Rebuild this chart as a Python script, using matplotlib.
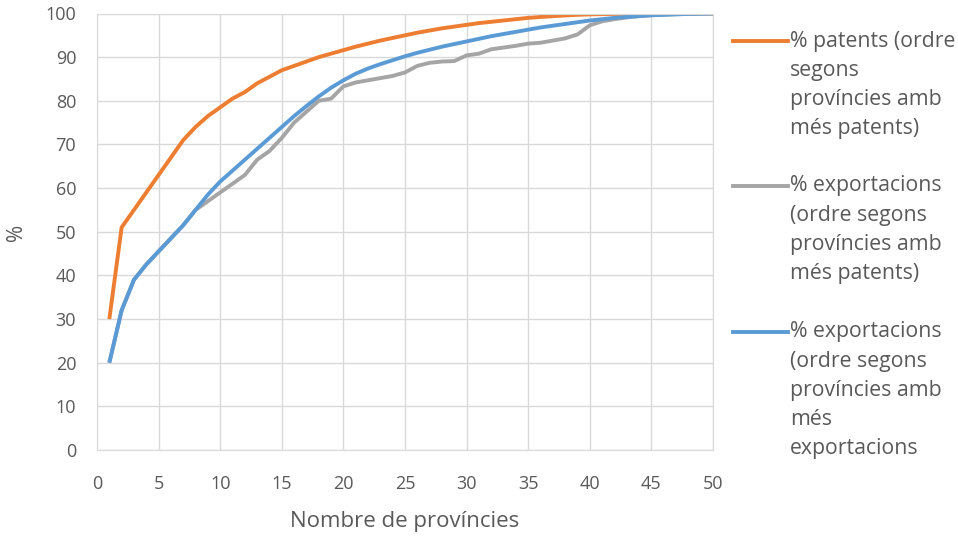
import numpy as np
import matplotlib
matplotlib.use("Agg")
import matplotlib.pyplot as plt
from matplotlib.lines import Line2D

plt.rcParams['font.family'] = ['Open Sans', 'DejaVu Sans']

provincies = np.arange(1, 51)

# % patents (ordre segons províncies amb més patents)
patents = [30, 51, 55, 59, 63, 67, 71, 74, 76.5, 78.5,
           80.5, 82, 84, 85.5, 87, 88, 89, 90, 90.8, 91.6,
           92.4, 93.1, 93.8, 94.4, 95, 95.6, 96.1, 96.6, 97.0, 97.4,
           97.8, 98.1, 98.4, 98.7, 99.0, 99.2, 99.4, 99.55, 99.7, 99.8,
           99.85, 99.9, 99.92, 99.94, 99.96, 99.97, 99.98, 99.99, 99.995, 100]

# % exportacions (ordre segons províncies amb més patents)
exp_pat = [20, 32, 39, 42.5, 45.5, 48.5, 51.5, 55, 57, 59,
           61, 63, 66.5, 68.5, 71.5, 75, 77.5, 80, 80.5, 83.3,
           84.2, 84.7, 85.2, 85.7, 86.5, 88, 88.7, 89, 89.1, 90.4,
           90.8, 91.8, 92.2, 92.6, 93.1, 93.3, 93.8, 94.3, 95.2, 97.3,
           98.2, 98.7, 99.1, 99.4, 99.6, 99.75, 99.85, 99.93, 99.97, 100]

# % exportacions (ordre segons províncies amb més exportacions)
exp_exp = [20, 32, 39, 42.5, 45.5, 48.5, 51.5, 55, 58.5, 61.5,
           64, 66.5, 69, 71.5, 74, 76.5, 78.8, 81, 83, 84.7,
           86.2, 87.4, 88.4, 89.3, 90.2, 91, 91.7, 92.4, 93.0, 93.6,
           94.2, 94.8, 95.3, 95.8, 96.3, 96.8, 97.2, 97.6, 98.0, 98.4,
           98.7, 99.0, 99.2, 99.4, 99.6, 99.7, 99.8, 99.9, 99.95, 100]

labels = [["% patents (ordre", "segons", "províncies amb", "més patents)"],
          ["% exportacions", "(ordre segons", "províncies amb", "més patents)"],
          ["% exportacions", "(ordre segons", "províncies amb", "més", "exportacions"]]
colors = ["#ED7D31", "#A5A5A5", "#5B9BD5"]

W, H = 958, 536
fig = plt.figure(figsize=(W / 100, H / 100), dpi=100)
ax = fig.add_axes([97 / W, 1 - 450 / H, 616 / W, 436.5 / H])

for y, c in zip([patents, exp_pat, exp_exp], colors):
    ax.plot(provincies, y, color=c, lw=2.8, solid_capstyle='butt')

ax.set_xlim(0, 50)
ax.set_ylim(0, 100)
ax.set_xticks(np.arange(0, 51, 5))
ax.set_yticks(np.arange(0, 101, 10))
ax.grid(True, color="#D9D9D9", lw=1)
ax.set_axisbelow(True)
for s in ax.spines.values():
    s.set_color("#D9D9D9")
ax.tick_params(length=0, labelsize=13, colors="#595959")
ax.tick_params(axis='y', pad=15)
ax.tick_params(axis='x', pad=18)
ax.set_xlabel("Nombre de províncies", fontsize=16, color="#595959")
ax.set_ylabel("%", fontsize=15, color="#595959")
ax.xaxis.label.set_va('center')
ax.yaxis.label.set_va('center')
ax.xaxis.set_label_coords(0.5, (450 - 522) / 436.5)
ax.yaxis.set_label_coords((16 - 97) / 616, (450 - 232) / 436.5)

# legend at the right
tops = [41, 186, 332]
step = 29.2
for lines, c, t in zip(labels, colors, tops):
    yf = 1 - t / H
    fig.add_artist(Line2D([733 / W, 788 / W], [yf, yf], color=c, lw=2.8,
                          transform=fig.transFigure))
    for i, txt in enumerate(lines):
        fig.text(790 / W, 1 - (t + i * step) / H, txt, fontsize=15.3,
                 color="#595959", va='center', ha='left')

fig.savefig("out.png", dpi=100)
